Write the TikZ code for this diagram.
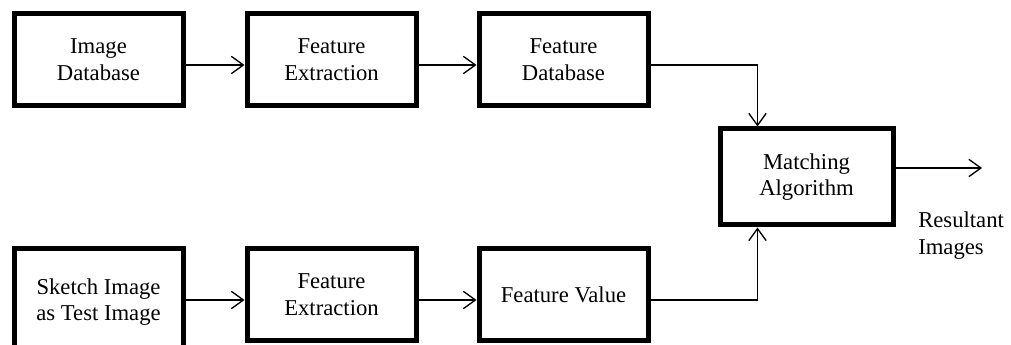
\documentclass[tikz,border=0pt]{standalone}
\usepackage{fontspec}
\setmainfont{Liberation Serif}
\usetikzlibrary{arrows.meta}
\begin{document}
\begin{tikzpicture}[x=0.75pt,y=-0.75pt,
  box/.style={draw, line width=3.75pt, align=center, inner sep=0pt,
    font=\fontsize{17}{20}\selectfont, minimum width=169*0.75pt, minimum height=92*0.75pt},
  conn/.style={line width=1pt, -{Straight Barb[length=9pt,width=13pt,line width=1pt]}},
  lbl/.style={align=left, anchor=north west, inner sep=0pt, font=\fontsize{17}{20}\selectfont}]
\clip (0,0) rectangle (1011,345);
\node[box] (a1) at (98.5,60) {Image\\Database};
\node[box] (a2) at (331.5,60) {Feature\\Extraction};
\node[box] (a3) at (563.5,60) {Feature\\Database};
\node[box, minimum width=173*0.75pt, minimum height=96*0.75pt] (m) at (806.5,177) {Matching\\Algorithm};
\node[box, minimum height=106*0.75pt] (b1) at (98.5,302) {Sketch Image\\as Test Image};
\node[box] (b2) at (331.5,295) {Feature\\Extraction};
\node[box] (b3) at (563.5,295) {Feature Value};
\coordinate (out) at (982,168);
\node[lbl] (res) at (918,212) {Resultant\\Images};
\draw[conn] ([yshift=-3.75pt]a1.east) -- ([yshift=-3.75pt]a2.west);
\draw[conn] ([yshift=-3.75pt]a2.east) -- ([yshift=-3.75pt]a3.west);
\draw[conn] ([yshift=-3.75pt]a3.east) -| ([xshift=30pt]m.north west);
\draw[conn] ([yshift=-3.75pt]b2.east |- b3.west) ++(0,0) -- ([yshift=-3.75pt]b3.west);
\draw[conn] ([yshift=-3.75pt]b1.east |- b2.west) -- ([yshift=-3.75pt]b2.west);
\draw[conn] ([yshift=-3.75pt]b3.east) -| ([xshift=30pt]m.south west);
\draw[conn] (m.east |- out) -- (out);
\end{tikzpicture}
\end{document}
